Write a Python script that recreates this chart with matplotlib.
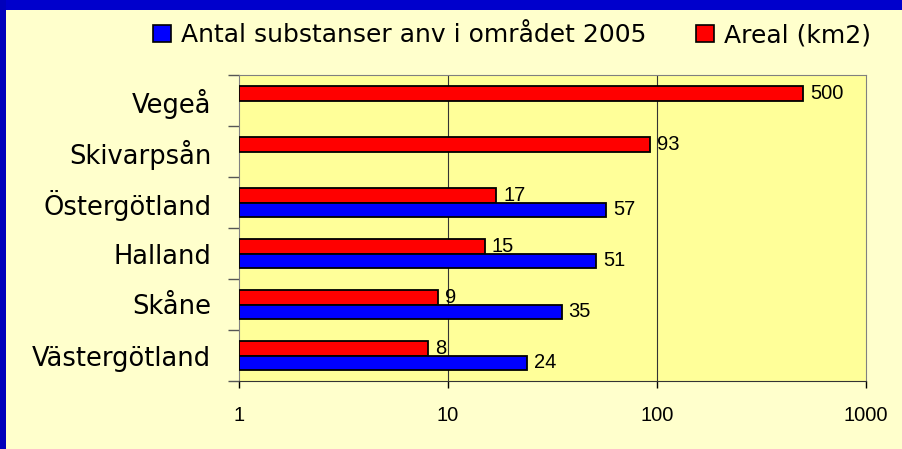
import numpy as np
import matplotlib
matplotlib.use('Agg')
import matplotlib.pyplot as plt
from matplotlib.patches import Rectangle, Patch

# data, bottom to top as drawn
regions = ['Västergötland', 'Skåne', 'Halland', 'Östergötland', 'Skivarpsån', 'Vegeå']
antal_substanser = [24, 35, 51, 57, None, None]
areal_km2 = [8, 9, 15, 17, 93, 500]
x_ticks = [1, 10, 100, 1000]

bg = '#FFFFCC'
plot_bg = '#FFFF99'

fig = plt.figure(figsize=(9.02, 4.49), dpi=100, facecolor=bg)
ax = fig.add_axes([239/902, 1 - 381/449, (866 - 239)/902, (381 - 75)/449])
ax.set_facecolor(plot_bg)

# blue frame strips at top and left
fig.patches.append(Rectangle((0, 1 - 10/449), 1, 10/449, transform=fig.transFigure,
                             facecolor='#0000CC', edgecolor='none', zorder=0))
fig.patches.append(Rectangle((0, 0), 6/902, 1, transform=fig.transFigure,
                             facecolor='#0000BB', edgecolor='none', zorder=0))

y = np.arange(len(regions))
h = 0.28
for i in range(len(regions)):
    a = areal_km2[i]
    ax.barh(y[i] + h/2, a - 1, left=1, height=h, color='#FF0000',
            edgecolor='black', linewidth=1.3, zorder=3)
    ax.text(a * 1.08, y[i] + h/2, str(a), va='center', ha='left',
            fontsize=14.5, family='Liberation Sans', zorder=4)
    s = antal_substanser[i]
    if s is not None:
        ax.barh(y[i] - h/2, s - 1, left=1, height=h, color='#0000FF',
                edgecolor='black', linewidth=1.3, zorder=3)
        ax.text(s * 1.08, y[i] - h/2, str(s), va='center', ha='left',
                fontsize=14.5, family='Liberation Sans', zorder=4)

ax.set_xscale('log')
ax.set_xlim(1, 1000)
ax.set_ylim(-0.5, len(regions) - 0.5)
ax.set_xticks(x_ticks)
ax.set_xticklabels([str(t) for t in x_ticks], family='Liberation Sans', fontsize=14.5)
ax.xaxis.set_minor_locator(matplotlib.ticker.NullLocator())
ax.tick_params(axis='x', length=5, width=1, direction='out', pad=13)

for gx in [10, 100]:
    ax.axvline(gx, color='#333333', linewidth=0.8, zorder=1)

# category ticks at the boundaries, labels at centres
ax.set_yticks(np.arange(len(regions) + 1) - 0.5)
ax.set_yticklabels([])
ax.set_yticks(y, minor=True)
ax.set_yticklabels(regions, minor=True, fontsize=18.5, family='DejaVu Sans')
ax.tick_params(axis='y', which='major', length=8, width=1, color='#555555')
ax.tick_params(axis='y', which='minor', length=0, pad=20)

for side in ['top', 'right']:
    ax.spines[side].set_color('#808080')
ax.spines['left'].set_color('#808080')
ax.spines['bottom'].set_color('#333333')

handles = [Patch(facecolor='#0000FF', edgecolor='black', linewidth=1.2),
           Patch(facecolor='#FF0000', edgecolor='black', linewidth=1.2)]
fig.legend(handles, ['Antal substanser anv i området 2005', 'Areal (km2)'],
           loc='center', bbox_to_anchor=(512/902, 1 - 35/449), ncol=2,
           frameon=False, fontsize=18, handlelength=0.7, handleheight=0.7,
           handletextpad=0.4, columnspacing=2.0)

fig.savefig('out.png', dpi=100, facecolor=bg)
